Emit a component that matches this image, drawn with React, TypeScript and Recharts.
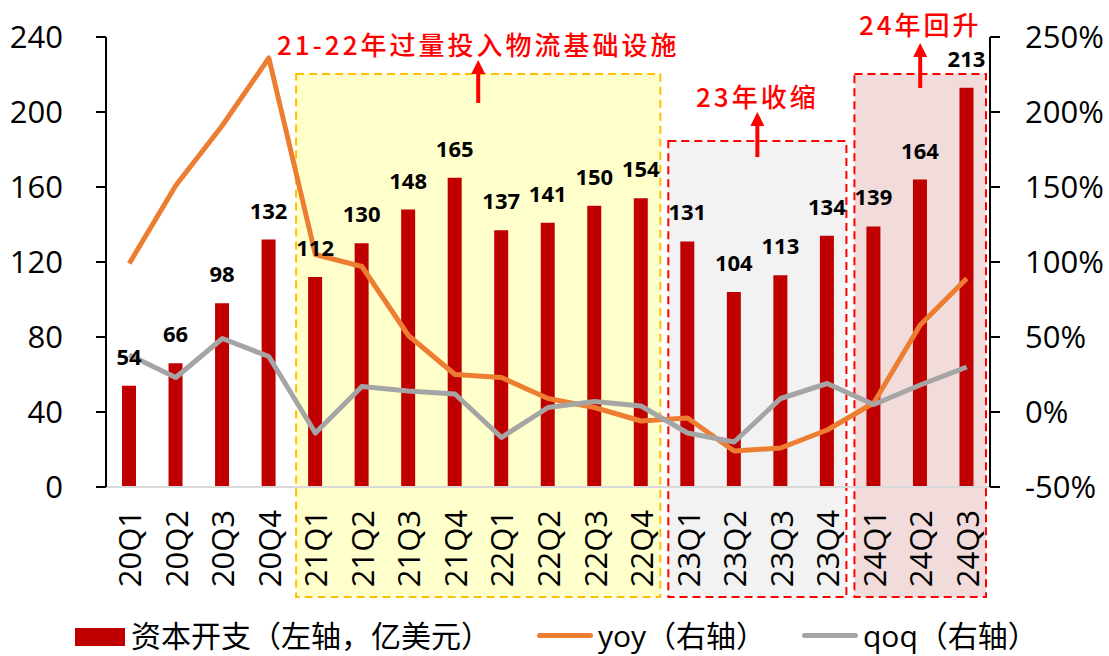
import React from 'react';
import { ComposedChart, Bar, Line, XAxis, YAxis, ReferenceArea, LabelList } from 'recharts';

const quarters = ['20Q1', '20Q2', '20Q3', '20Q4', '21Q1', '21Q2', '21Q3', '21Q4', '22Q1', '22Q2', '22Q3', '22Q4', '23Q1', '23Q2', '23Q3', '23Q4', '24Q1', '24Q2', '24Q3'];
const capex = [54, 66, 98, 132, 112, 130, 148, 165, 137, 141, 150, 154, 131, 104, 113, 134, 139, 164, 213];
const yoy = [99, 151, 191, 236, 105, 97, 51, 25, 23, 9, 3, -6, -4, -26, -24, -12, 6, 58, 89];
const qoq = [38, 23, 49, 37, -14, 17, 14, 12, -17, 3, 7, 4, -14, -20, 9, 19, 5, 18, 30];
const leftTicks = [0, 40, 80, 120, 160, 200, 240];
const rightTicks = [-50, 0, 50, 100, 150, 200, 250];

const data = quarters.map((q, i) => ({ q, capex: capex[i], yoy: yoy[i], qoq: qoq[i] }));

const FONT = "'Open Sans', 'Noto Sans CJK SC', sans-serif";
const CJK = "'Noto Sans CJK SC', sans-serif";

// shaded period boxes, with their notes above
const makeBox = (fill: string, stroke: string, note: string, textUp: number, arrowUp: number, arrowDown: number) =>
  (p: any) => {
    const inset = 4;
    const x = p.x + inset;
    const w = p.width - inset * 2;
    const cx = x + w / 2;
    const top = p.y;
    return (
      <g>
        <rect x={x} y={top} width={w} height={p.height} fill={fill} stroke={stroke} strokeWidth={2} strokeDasharray="8 5" />
        <line x1={cx} y1={top + arrowDown} x2={cx} y2={top - arrowUp + 12} stroke="#ff0000" strokeWidth={4} />
        <polygon points={`${cx - 7},${top - arrowUp + 14} ${cx + 7},${top - arrowUp + 14} ${cx},${top - arrowUp}`} fill="#ff0000" />
        <text x={cx} y={top - textUp} textAnchor="middle" dominantBaseline="central" fill="#ff0000"
          fontSize={26} fontWeight={500} letterSpacing={3} fontFamily={CJK}>{note}</text>
      </g>
    );
  };

const XTick = ({ x, y, payload }: any) => (
  <text x={x} y={y} transform={`rotate(-90 ${x} ${y})`} textAnchor="end" dominantBaseline="central"
    fontSize={31} fill="#000" fontFamily={FONT}>{payload.value}</text>
);

export default function App() {
  return (
    <div style={{ position: 'relative', width: 1109, height: 656, fontFamily: FONT }}>
      <style>{'body{margin:0}'}</style>
      <ComposedChart width={1109} height={656} data={data} margin={{ top: 37, right: 0, bottom: 0, left: 0 }}>
        <ReferenceArea yAxisId="left" x1="21Q1" x2="22Q4" y1={-58.7} y2={220.3} ifOverflow="visible"
          shape={makeBox('#ffffcc', '#ffc000', '21-22年过量投入物流基础设施', 30, 14, 29)} />
        <ReferenceArea yAxisId="left" x1="23Q1" x2="23Q4" y1={-58.7} y2={184.5} ifOverflow="visible"
          shape={makeBox('#f2f2f2', '#ff0000', '23年收缩', 46, 29, 16)} />
        <ReferenceArea yAxisId="left" x1="24Q1" x2="24Q3" y1={-58.7} y2={220.3} ifOverflow="visible"
          shape={makeBox('#f2dcdb', '#ff0000', '24年回升', 50, 31, 14)} />
        <XAxis dataKey="q" height={169} tickLine={false} tickSize={0} tickMargin={23} interval={0}
          axisLine={{ stroke: '#d9d9d9', strokeWidth: 2 }} tick={<XTick />} />
        <YAxis yAxisId="left" width={106} domain={[0, 240]} ticks={leftTicks} interval={0}
          tickSize={10} tickMargin={33} axisLine={{ stroke: '#000', strokeWidth: 2 }}
          tickLine={{ stroke: '#000', strokeWidth: 2 }} tick={{ fontSize: 31, fill: '#000', fontFamily: FONT }} />
        <YAxis yAxisId="right" orientation="right" width={119} domain={[-50, 250]} ticks={rightTicks} interval={0}
          tickSize={10} tickMargin={25} axisLine={{ stroke: '#000', strokeWidth: 2 }}
          tickLine={{ stroke: '#000', strokeWidth: 2 }} tickFormatter={(v: number) => `${v}%`}
          tick={{ fontSize: 31, fill: '#000', fontFamily: FONT }} />
        <Bar yAxisId="left" dataKey="capex" fill="#c00000" barSize={14} isAnimationActive={false}>
          <LabelList dataKey="capex" position="top" offset={21} fill="#000" fontSize={22} fontWeight={700} fontFamily={FONT} />
        </Bar>
        <Line yAxisId="right" dataKey="yoy" type="linear" stroke="#ed7d31" strokeWidth={5} dot={false}
          strokeLinejoin="round" isAnimationActive={false} />
        <Line yAxisId="right" dataKey="qoq" type="linear" stroke="#a5a5a5" strokeWidth={5} dot={false}
          strokeLinejoin="round" isAnimationActive={false} />
      </ComposedChart>
      <div style={{ position: 'absolute', left: 0, top: 616, width: 1109, height: 40, fontSize: 30, color: '#000' }}>
        <div style={{ position: 'absolute', left: 75, top: 12, width: 50, height: 18, background: '#c00000' }} />
        <div style={{ position: 'absolute', left: 131, top: 0, whiteSpace: 'nowrap', lineHeight: '40px' }}>资本开支（左轴，亿美元）</div>
        <div style={{ position: 'absolute', left: 537, top: 17, width: 56, height: 5, borderRadius: 3, background: '#ed7d31' }} />
        <div style={{ position: 'absolute', left: 598, top: 0, whiteSpace: 'nowrap', lineHeight: '40px' }}>yoy（右轴）</div>
        <div style={{ position: 'absolute', left: 802, top: 17, width: 56, height: 5, borderRadius: 3, background: '#a5a5a5' }} />
        <div style={{ position: 'absolute', left: 863, top: 0, whiteSpace: 'nowrap', lineHeight: '40px' }}>qoq（右轴）</div>
      </div>
    </div>
  );
}
